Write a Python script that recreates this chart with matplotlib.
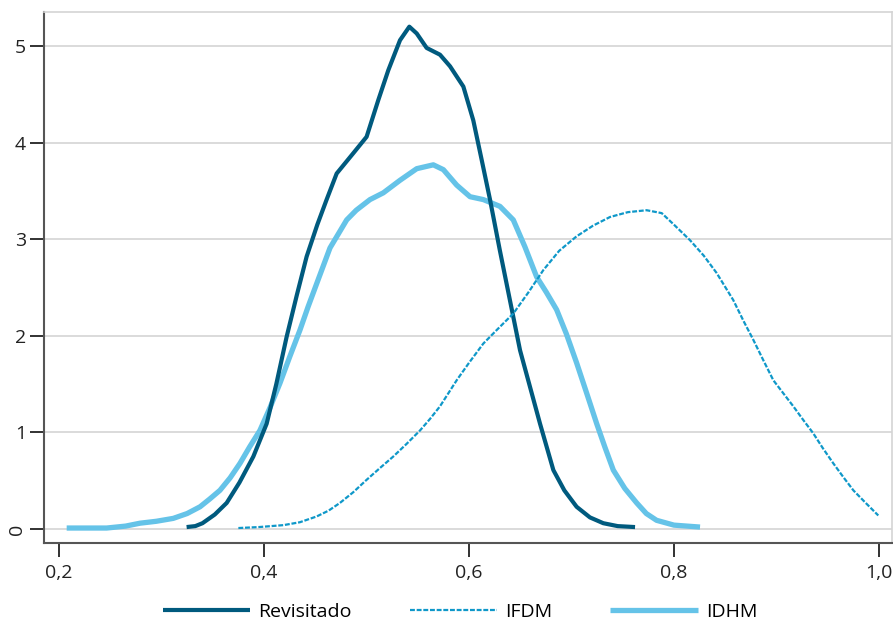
import matplotlib
matplotlib.use('Agg')
import matplotlib.pyplot as plt

# Density estimates
rev_x = [0.3245, 0.333, 0.340, 0.352, 0.3636, 0.376, 0.3896, 0.4026, 0.412, 0.4221,
         0.432, 0.4416, 0.452, 0.4611, 0.4709, 0.4871, 0.5001, 0.5115, 0.5213,
         0.5327, 0.5418, 0.549, 0.5587, 0.5717, 0.5815, 0.5945, 0.6042, 0.6124,
         0.6205, 0.630, 0.6498, 0.6693, 0.6823, 0.693, 0.705, 0.718, 0.731,
         0.745, 0.762]
rev_y = [0.02, 0.03, 0.06, 0.15, 0.27, 0.48, 0.75, 1.09, 1.50, 1.99,
         2.42, 2.82, 3.15, 3.41, 3.68, 3.89, 4.06, 4.44, 4.75,
         5.06, 5.20, 5.13, 4.98, 4.91, 4.79, 4.58, 4.23, 3.82,
         3.41, 2.89, 1.85, 1.09, 0.61, 0.40, 0.23, 0.12, 0.06,
         0.03, 0.02]

ifdm_x = [0.375, 0.395, 0.419, 0.435, 0.4514, 0.463, 0.4741, 0.487, 0.5002, 0.513,
          0.5261, 0.539, 0.5522, 0.562, 0.5717, 0.588, 0.600, 0.614, 0.628, 0.6432,
          0.658, 0.6725, 0.688, 0.705, 0.721, 0.7376, 0.755, 0.7733, 0.788, 0.800,
          0.8156, 0.829, 0.8416, 0.8578, 0.868, 0.8773, 0.887, 0.8969, 0.907,
          0.9164, 0.926, 0.9359, 0.945, 0.9554, 0.965, 0.975, 0.987, 0.9993]
ifdm_y = [0.01, 0.02, 0.04, 0.07, 0.13, 0.19, 0.27, 0.38, 0.51, 0.63,
          0.75, 0.88, 1.02, 1.14, 1.27, 1.54, 1.72, 1.92, 2.07, 2.23,
          2.45, 2.68, 2.88, 3.03, 3.14, 3.23, 3.28, 3.30, 3.27, 3.15,
          2.99, 2.83, 2.65, 2.37, 2.15, 1.96, 1.75, 1.54, 1.40,
          1.27, 1.13, 0.99, 0.84, 0.68, 0.54, 0.40, 0.27, 0.14]

idhm_x = [0.2075, 0.2465, 0.265, 0.279, 0.295, 0.3115, 0.325, 0.3376, 0.347, 0.357,
          0.367, 0.3766, 0.386, 0.396, 0.406, 0.4156, 0.425, 0.4351, 0.443, 0.4514,
          0.4644, 0.4807, 0.490, 0.5034, 0.5164, 0.5327, 0.549, 0.5652, 0.575,
          0.588, 0.601, 0.614, 0.6302, 0.6432, 0.6546, 0.666, 0.6755, 0.6855,
          0.695, 0.705, 0.715, 0.7246, 0.7325, 0.7408, 0.752, 0.7636, 0.773,
          0.783, 0.800, 0.8254]
idhm_y = [0.01, 0.01, 0.03, 0.06, 0.08, 0.11, 0.16, 0.23, 0.31, 0.40,
          0.53, 0.68, 0.85, 1.02, 1.26, 1.51, 1.78, 2.06, 2.30, 2.54,
          2.91, 3.20, 3.30, 3.41, 3.48, 3.61, 3.73, 3.77, 3.72,
          3.56, 3.44, 3.41, 3.34, 3.20, 2.92, 2.61, 2.45, 2.27,
          2.02, 1.72, 1.40, 1.09, 0.85, 0.61, 0.42, 0.27, 0.16,
          0.09, 0.04, 0.02]

x_ticks = [0.2, 0.4, 0.6, 0.8, 1.0]
x_labels = ['0,2', '0,4', '0,6', '0,8', '1,0']
y_ticks = [0, 1, 2, 3, 4, 5]

plt.rcParams['font.family'] = ['Open Sans', 'DejaVu Sans']

fig = plt.figure(figsize=(8.93, 6.22), dpi=100)
ax = fig.add_axes([0.0493, 0.127, 0.9496, 0.8537])

ax.plot(rev_x, rev_y, color='#005a7e', lw=3.0, label='Revisitado',
        solid_capstyle='butt', solid_joinstyle='round', zorder=3)
ax.plot(ifdm_x, ifdm_y, color='#0f98c9', lw=1.6, ls=(0, (2.2, 0.8)),
        label='IFDM', zorder=3)
ax.plot(idhm_x, idhm_y, color='#65c3e8', lw=3.8, label='IDHM',
        solid_capstyle='butt', solid_joinstyle='round', zorder=2)

ax.set_xlim(0.1854, 1.0127)
ax.set_ylim(-0.145, 5.352)
ax.set_xticks(x_ticks)
ax.set_xticklabels(x_labels)
ax.set_yticks(y_ticks)
ax.set_yticklabels([str(v) for v in y_ticks])
# the zero label is printed sideways in the original
ax.get_yticklabels()[0].set_rotation(90)
ax.get_yticklabels()[0].set_va('center')

ax.grid(axis='y', color='#d4d4d4', lw=1.2)
ax.set_axisbelow(True)
ax.tick_params(axis='both', labelsize=14, colors='#222222', width=1.3,
               length=10, direction='out')
ax.tick_params(axis='y', pad=3)
ax.tick_params(axis='x', pad=5)

for side in ['left', 'bottom']:
    ax.spines[side].set_color('#555555')
    ax.spines[side].set_linewidth(1.5)
for side in ['top', 'right']:
    ax.spines[side].set_color('#d4d4d4')
    ax.spines[side].set_linewidth(1.2)

fig.legend(loc='center', bbox_to_anchor=(0.515, 0.016), ncol=3,
           frameon=False, fontsize=14, handlelength=4.5, columnspacing=3.0,
           handletextpad=0.4)

fig.savefig('out.png', dpi=100)
